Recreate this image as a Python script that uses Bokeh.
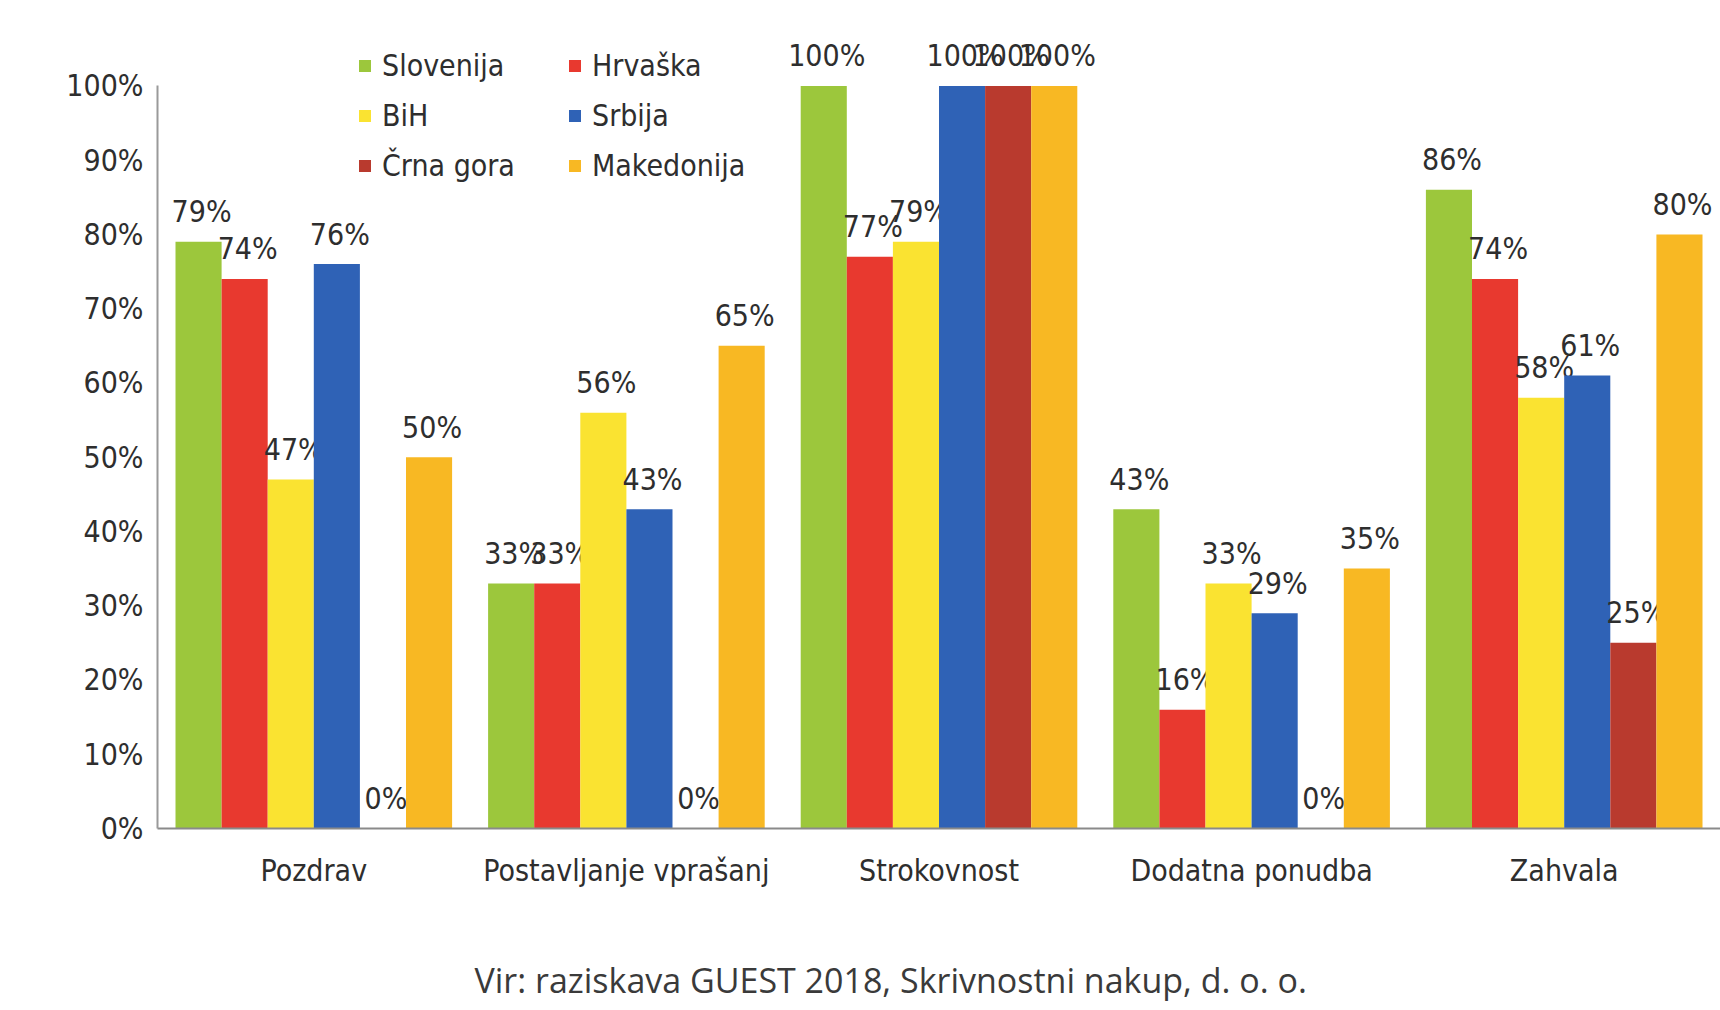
from bokeh.plotting import figure
from bokeh.models import (ColumnDataSource, FactorRange, Range1d, FixedTicker,
                          Legend, LegendItem, Title)
from bokeh.transform import dodge
from bokeh.core.properties import value
from bokeh.embed import file_html
from bokeh.resources import INLINE

# ---------------- data ----------------
categories = ["Pozdrav", "Postavljanje vprašanj", "Strokovnost",
              "Dodatna ponudba", "Zahvala"]
countries = ["Slovenija", "Hrvaška", "BiH", "Srbija", "Črna gora", "Makedonija"]
slovenija = [79, 33, 100, 43, 86]
hrvaska = [74, 33, 77, 16, 74]
bih = [47, 56, 79, 33, 58]
srbija = [76, 43, 100, 29, 61]
crna_gora = [0, 0, 100, 0, 25]
makedonija = [50, 65, 100, 35, 80]
y_ticks = [0, 10, 20, 30, 40, 50, 60, 70, 80, 90, 100]
y_tick_labels = ["0%", "10%", "20%", "30%", "40%", "50%",
                 "60%", "70%", "80%", "90%", "100%"]
source_text = "Vir: raziskava GUEST 2018, Skrivnostni nakup, d. o. o."

series = [slovenija, hrvaska, bih, srbija, crna_gora, makedonija]
colors = ["#9cc73c", "#e8392f", "#fae331", "#2f62b6", "#b93a2e", "#f8b823"]

FONT = "DejaVu Sans Condensed"
FS = "30px"
TXT = "#2e2e2e"

FRAME_W, FRAME_H = 1563, 828

p = figure(x_range=FactorRange(factors=categories, range_padding=0),
           y_range=Range1d(0, 111.5),
           frame_width=FRAME_W, frame_height=FRAME_H,
           min_border_left=157, min_border_right=0, min_border_top=0,
           min_border_bottom=182,
           output_backend="svg", toolbar_location=None)
p.outline_line_color = None
p.grid.visible = False
p.background_fill_color = "white"

pitch = FRAME_W / len(categories)
bw = 46.1 / pitch

renderers = []
for i, (name, vals, col) in enumerate(zip(countries, series, colors)):
    src = ColumnDataSource(dict(cat=categories, val=vals,
                                lab=[f"{v}%" for v in vals]))
    off = (i - 2.5) * bw
    r = p.vbar(x=dodge("cat", off, range=p.x_range), top="val", width=bw,
               bottom=0, source=src, fill_color=col, line_color=None)
    renderers.append(r)
    p.text(x=dodge("cat", off, range=p.x_range), y="val", text="lab",
           source=src, text_align="center", text_baseline="middle",
           x_offset=3, y_offset=-30, text_font=value(FONT),
           text_font_size=FS, text_color=TXT)

# axes
yax = p.yaxis[0]
yax.ticker = FixedTicker(ticks=y_ticks)
yax.major_label_overrides = {t: l for t, l in zip(y_ticks, y_tick_labels)}
yax.bounds = (0, 100)
yax.major_tick_line_color = None
yax.minor_tick_line_color = None
yax.axis_line_color = "#9a9a9a"
yax.axis_line_width = 2
yax.major_label_standoff = 8
yax.major_label_text_font = FONT
yax.major_label_text_font_size = FS
yax.major_label_text_color = TXT

xax = p.xaxis[0]
xax.major_tick_line_color = None
xax.minor_tick_line_color = None
xax.axis_line_color = "#8a8a8a"
xax.axis_line_width = 2
xax.major_label_standoff = 18
xax.major_label_text_font = FONT
xax.major_label_text_font_size = FS
xax.major_label_text_color = TXT

# legends (two columns)
def make_legend(idx, x):
    items = [LegendItem(label=countries[k], renderers=[renderers[k]]) for k in idx]
    lg = Legend(items=items, location=(x, 643), orientation="vertical",
                glyph_width=15, glyph_height=15, label_standoff=10,
                label_height=40, spacing=10, padding=0, margin=0,
                border_line_color=None, background_fill_alpha=0,
                label_text_font=FONT, label_text_font_size=FS,
                label_text_color=TXT)
    return lg

p.add_layout(make_legend([0, 2, 4], 200), "center")
p.add_layout(make_legend([1, 3, 5], 410), "center")

t = Title(text=source_text, align="left", offset=317, standoff=128,
          text_font="Open Sans", text_font_size="34px",
          text_font_style="normal", text_color="#3a3a3a")
p.add_layout(t, "below")

open("out.html", "w").write(file_html(p, INLINE))
